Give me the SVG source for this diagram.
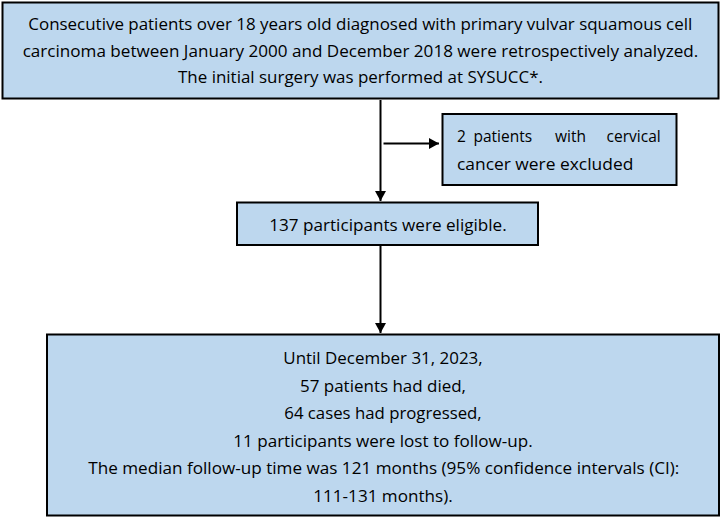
<svg xmlns="http://www.w3.org/2000/svg" width="721" height="518" viewBox="0 0 721 518">
<style>
.box{fill:#bdd7ee;stroke:#000;stroke-width:2}
.t{font-family:"Open Sans","Noto Sans","Liberation Sans",sans-serif;font-size:15.5px;fill:#000}
.c{text-anchor:middle}
.ln{stroke:#000;stroke-width:2;fill:none}
</style>
<defs>
<marker id="ah" markerUnits="userSpaceOnUse" markerWidth="12" markerHeight="12" refX="10" refY="5.5" orient="auto">
<path d="M0,0 L10,5.5 L0,11 Z" fill="#000"/>
</marker>
</defs>
<g id="connectors">
<line class="ln" x1="380.5" y1="100" x2="380.5" y2="201" marker-end="url(#ah)"/>
<line class="ln" x1="383.5" y1="143.5" x2="439" y2="143.5" marker-end="url(#ah)"/>
<line class="ln" x1="380.5" y1="246" x2="380.5" y2="333" marker-end="url(#ah)"/>
</g>
<g id="node-start">
<rect class="box" x="2.5" y="2.5" width="716" height="96"/>
<text class="t" x="28.3" y="30" textLength="664" lengthAdjust="spacingAndGlyphs">Consecutive patients over 18 years old diagnosed with primary vulvar squamous cell</text>
<text class="t" x="22.7" y="56.7" textLength="675.6" lengthAdjust="spacingAndGlyphs">carcinoma between January 2000 and December 2018 were retrospectively analyzed.</text>
<text class="t" x="178" y="83.3" textLength="365" lengthAdjust="spacingAndGlyphs">The initial surgery was performed at SYSUCC*.</text>
</g>
<g id="node-excluded">
<rect class="box" x="442.5" y="114" width="234" height="71"/>
<text class="t" y="142.3"><tspan x="457">2</tspan><tspan x="473.5">patients</tspan><tspan x="555">with</tspan><tspan x="660.7" text-anchor="end">cervical</tspan></text>
<text class="t" x="457" y="170" textLength="176.3" lengthAdjust="spacingAndGlyphs">cancer were excluded</text>
</g>
<g id="node-eligible">
<rect class="box" x="237" y="202.5" width="301" height="42.5"/>
<text class="t" x="269.3" y="230.7" textLength="237.4" lengthAdjust="spacingAndGlyphs">137 participants were eligible.</text>
</g>
<g id="node-followup">
<rect class="box" x="47" y="334.5" width="672" height="181"/>
<text class="t c" x="383" y="364.3" textLength="199.4" lengthAdjust="spacingAndGlyphs">Until December 31, 2023,</text>
<text class="t c" x="383" y="391.7" textLength="166" lengthAdjust="spacingAndGlyphs">57 patients had died,</text>
<text class="t c" x="383" y="419" textLength="197.4" lengthAdjust="spacingAndGlyphs">64 cases had progressed,</text>
<text class="t c" x="383" y="446.5" textLength="299.4" lengthAdjust="spacingAndGlyphs">11 participants were lost to follow-up.</text>
<text class="t c" x="383.8" y="474" textLength="591" lengthAdjust="spacingAndGlyphs">The median follow-up time was 121 months (95% confidence intervals (CI):</text>
<text class="t c" x="383" y="501.7" textLength="139.4" lengthAdjust="spacingAndGlyphs">111-131 months).</text>
</g>
</svg>
